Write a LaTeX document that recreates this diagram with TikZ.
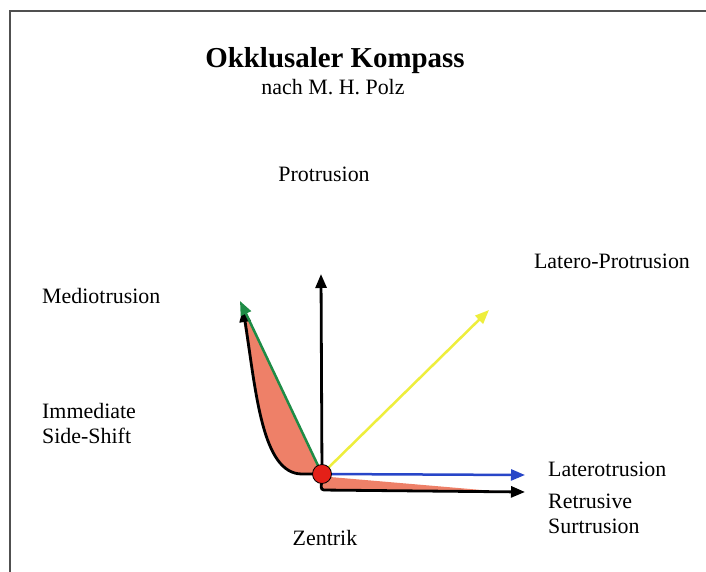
\documentclass[tikz,border=0pt]{standalone}
\usepackage{fontspec}
\setmainfont{Liberation Serif}
\usetikzlibrary{arrows.meta}
\definecolor{salmon}{RGB}{238,128,104}
\definecolor{dotred}{RGB}{228,32,24}
\definecolor{grn}{RGB}{30,140,70}
\definecolor{blu}{RGB}{40,70,200}
\definecolor{yel}{RGB}{238,238,60}
\definecolor{frame}{RGB}{80,80,80}
\begin{document}
\begin{tikzpicture}[x=1bp,y=-1bp,
  lbl/.style={font=\fontsize{22}{26}\selectfont, inner sep=0pt},
  tip/.style={-{Triangle[length=14bp,width=11bp]}},
  blk/.style={tip, line width=2.8bp, black},
  col/.style={tip, line width=2.5bp}]
\useasboundingbox (0,0) rectangle (706,572);
\fill[white] (0,0) rectangle (706,572);
\draw[frame, line width=1.6bp] (10,572) -- (10,11) -- (706,11);

% titles
\node[font=\fontsize{29}{33}\selectfont\bfseries, inner sep=0pt, anchor=base] (title) at (335,68) {Okklusaler Kompass};
\node[lbl, anchor=base] (sub) at (333,95) {nach M. H. Polz};

% coordinates
\coordinate (c) at (322,474);
\coordinate (pro) at (321,274);
\coordinate (med) at (240,301);
\coordinate (medb) at (243,308);
\coordinate (lp) at (489,310);
\coordinate (lat) at (525,475);
\coordinate (ret) at (525,492);
\coordinate (corner) at (321,490);

% shaded regions
\fill[salmon] (c) -- (med) .. controls (256,392) and (262,474) .. (302,474) -- cycle;
\fill[salmon] (c) -- (322,490) -- (505,492) -- (330,477) -- cycle;

% arrows
\draw[blk] (c) -- (pro);
\draw[blk] (c) -- (302,474) .. controls (262,474) and (256,392) .. (medb);
\draw[col, grn] (c) -- (med);
\draw[col, yel] (c) -- (lp);
\draw[col, blu] (c) -- (lat);
\draw[blk, rounded corners=3bp] (c) -- (corner) -- (ret);

% center dot
\node[circle, draw=black, line width=0.8bp, fill=dotred, minimum size=19bp, inner sep=0pt] (o) at (c) {};

% labels
\node[lbl, anchor=base] (lprotr) at (324,182) {Protrusion};
\node[lbl, anchor=base] (llatpro) at (612,268) {Latero-Protrusion};
\node[lbl, anchor=base west] (lmed) at (42,303) {Mediotrusion};
\node[lbl, anchor=base west] (limm1) at (42,418) {Immediate};
\node[lbl, anchor=base west] (limm2) at (42,443) {Side-Shift};
\node[lbl, anchor=base west] (llat) at (548,476) {Laterotrusion};
\node[lbl, anchor=base west] (lret1) at (548,508) {Retrusive};
\node[lbl, anchor=base west] (lret2) at (548,533) {Surtrusion};
\node[lbl, anchor=base] (lzen) at (325,545) {Zentrik};
\end{tikzpicture}
\end{document}
